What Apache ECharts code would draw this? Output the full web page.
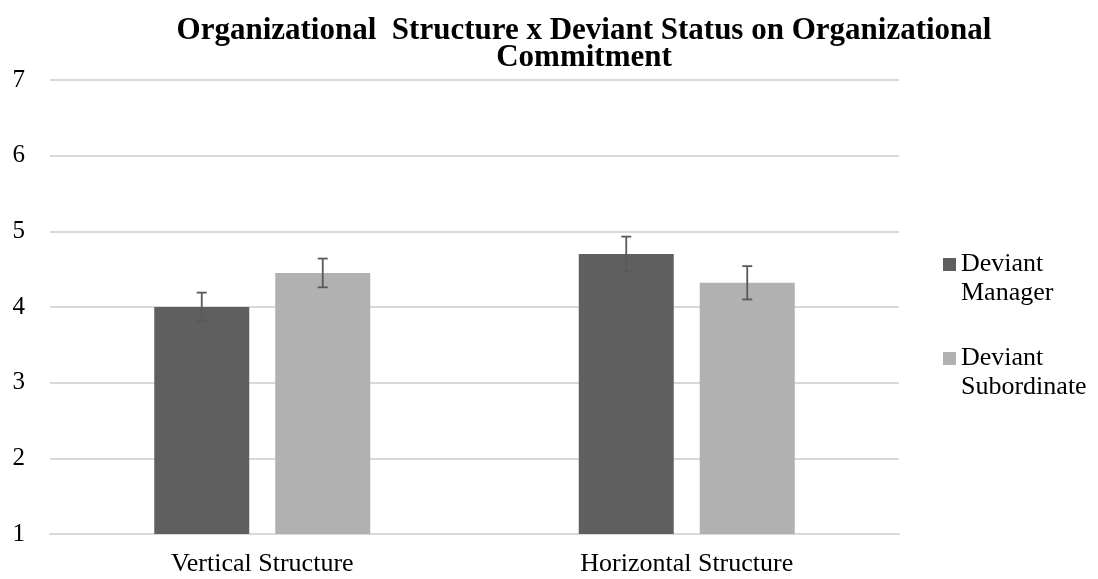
<!DOCTYPE html>
<html><head><meta charset="utf-8">
<script src="https://cdn.jsdelivr.net/npm/echarts@6/dist/echarts.min.js"></script>
<style>html,body{margin:0;padding:0;background:#fff}#c{width:1098px;height:579px}</style>
</head><body><div id="c"></div>
<script>
var categories = ["Vertical Structure", "Horizontal Structure"];
var seriesNames = ["Deviant Manager", "Deviant Subordinate"];
var managerValues = [4.0, 4.70];
var subordinateValues = [4.45, 4.32];
var managerErrors = [0.19, 0.23];
var subordinateErrors = [0.19, 0.22];
var yTicks = [1, 2, 3, 4, 5, 6, 7];

var colors = ["#5f5f5f", "#b1b1b1"];
var BAR_W = 95, BAR_GAP = 26;
var font = "'Liberation Serif', 'Times New Roman', serif";

function errSeries(idx, vals, errs) {
  var offset = (idx === 0 ? -1 : 1) * (BAR_W + BAR_GAP) / 2;
  return {
    type: 'custom',
    name: seriesNames[idx] + ' error',
    z: 10,
    data: vals.map(function (v, i) { return [i, v - errs[i], v + errs[i]]; }),
    renderItem: function (params, api) {
      var lo = api.coord([api.value(0), api.value(1)]);
      var hi = api.coord([api.value(0), api.value(2)]);
      var x = lo[0] + offset, cap = 5;
      var st = { stroke: '#595959', lineWidth: 1.8 };
      return { type: 'group', children: [
        { type: 'line', shape: { x1: x, y1: lo[1], x2: x, y2: hi[1] }, style: st },
        { type: 'line', shape: { x1: x - cap, y1: lo[1], x2: x + cap, y2: lo[1] }, style: st },
        { type: 'line', shape: { x1: x - cap, y1: hi[1], x2: x + cap, y2: hi[1] }, style: st }
      ]};
    },
    tooltip: { show: false }
  };
}

var chart = echarts.init(document.getElementById('c'), null, { renderer: 'canvas' });
chart.setOption({
  animation: false,
  backgroundColor: '#fff',
  title: {
    text: 'Organizational  Structure x Deviant Status on Organizational\nCommitment',
    left: 579, top: 12, textAlign: 'center',
    textStyle: { fontFamily: font, fontWeight: 'bold', fontSize: 31, color: '#000', lineHeight: 27 }
  },
  legend: {
    orient: 'vertical', left: 938, top: 216,
    itemWidth: 13, itemHeight: 13, itemGap: 7,
    data: seriesNames.map(function (n, i) { return { name: n, icon: 'rect', itemStyle: { color: colors[i] } }; }),
    formatter: function (n) { return ' \n' + n.replace(' ', '\n'); },
    textStyle: { fontFamily: font, fontSize: 26, color: '#000', lineHeight: 29 },
    itemStyle: { borderWidth: 0 }
  },
  grid: { left: 50, right: 199, top: 80, bottom: 45, containLabel: false },
  xAxis: {
    type: 'category', data: categories,
    axisLine: { lineStyle: { color: '#d9d9d9', width: 2 } },
    axisTick: { show: false },
    axisLabel: { fontFamily: font, fontSize: 26, color: '#000', margin: 17 }
  },
  yAxis: {
    type: 'value', min: yTicks[0], max: yTicks[yTicks.length - 1], interval: 1,
    axisLine: { show: false }, axisTick: { show: false },
    splitLine: { lineStyle: { color: '#d9d9d9', width: 2 } },
    axisLabel: { fontFamily: font, fontSize: 25, color: '#000', margin: 25 }
  },
  series: [
    { type: 'bar', name: seriesNames[0], data: managerValues, barWidth: BAR_W,
      barGap: (BAR_GAP / BAR_W * 100) + '%', itemStyle: { color: colors[0] } },
    { type: 'bar', name: seriesNames[1], data: subordinateValues, barWidth: BAR_W,
      itemStyle: { color: colors[1] } },
    errSeries(0, managerValues, managerErrors),
    errSeries(1, subordinateValues, subordinateErrors)
  ]
});
</script></body></html>
